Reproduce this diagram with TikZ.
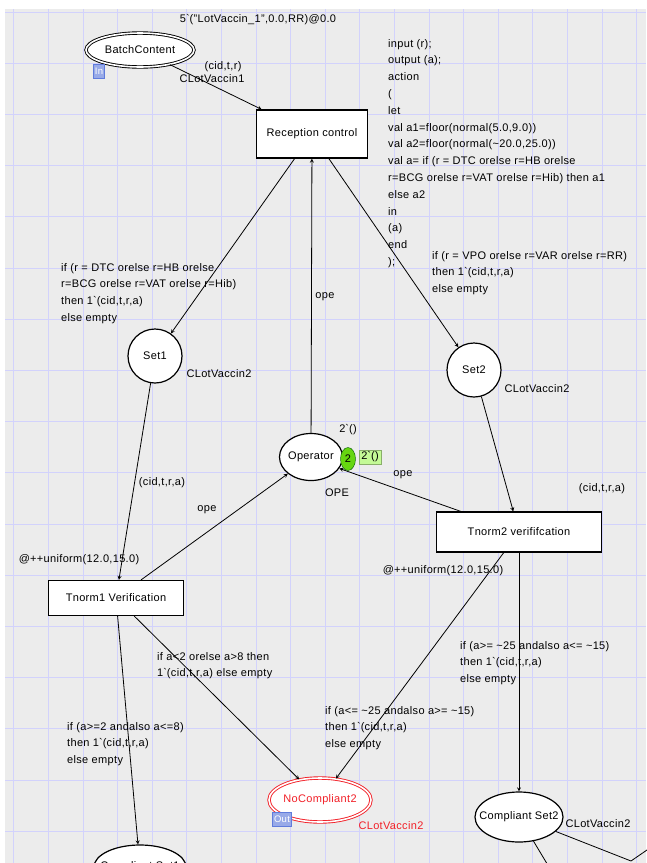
\documentclass[tikz,border=0pt]{standalone}
\usepackage{fontspec}
\setmainfont{Liberation Sans}[LetterSpace=3]
\usetikzlibrary{shapes.geometric}
\definecolor{paper}{RGB}{236,236,236}
\definecolor{gridline}{RGB}{210,210,252}
\definecolor{tagblue}{RGB}{96,124,220}
\definecolor{tokgreen}{RGB}{102,214,16}
\definecolor{markgreen}{RGB}{196,250,150}
\definecolor{portred}{RGB}{242,32,40}
\newcommand{\bq}{\textasciigrave}
\newcommand{\tl}{\textasciitilde}
\begin{document}
\begin{tikzpicture}[x=1pt,y=-1pt,>=stealth,font=\fontsize{11}{16.8}\selectfont,
	place/.style={draw,line width=1.2pt,fill=white,ellipse,inner sep=0pt,inner xsep=-14pt},
	trans/.style={draw,line width=1.2pt,fill=white,inner sep=0pt},
	port/.style={place,double,double distance=1.6pt,line width=.9pt},
	tag/.style={draw=tagblue,fill=tagblue!65,text=white,inner sep=1.5pt,minimum height=14pt,font=\fontsize{9.5}{10}\selectfont},
	arc/.style={->,line width=.8pt},
	code/.style={anchor=north west,inner sep=0pt,align=left}]
	\useasboundingbox (0,0) rectangle (646,863);
	\fill[white] (0,0) rectangle (646,863);
	\fill[paper] (5,9) rectangle (646,863);
	\foreach \i in {0,...,18} \draw[gridline,line width=.7pt] (13.8+34.6*\i,9)--(13.8+34.6*\i,863);
	\foreach \j in {0,...,16} \draw[gridline,line width=.7pt] (5,12+51.2*\j)--(646,12+51.2*\j);
	% places and transitions
	\node[port,minimum width=108pt,minimum height=34pt] (batch) at (140,50) {BatchContent};
	\node[tag] (intag) at (99,71) {In};
	\node[trans,minimum width=111pt,minimum height=48pt] (recep) at (312,134) {Reception control};
	\node[place,circle,minimum size=54pt] (set1) at (155,356) {Set1};
	\node[place,circle,minimum size=54pt] (set2) at (474,370) {Set2};
	\node[place,minimum width=63pt,minimum height=47pt] (oper) at (311,457) {Operator};
	\node[trans,minimum width=135pt,minimum height=35pt] (tn1) at (116,598) {Tnorm1 Verification};
	\node[trans,minimum width=165pt,minimum height=40pt] (tn2) at (519,532) {Tnorm2 verififcation};
	\node[port,draw=portred,text=portred,minimum width=102pt,minimum height=44pt] (nocomp) at (320,800) {NoCompliant2};
	\node[tag] (outtag) at (282,819) {Out};
	\node[place,minimum width=88pt,minimum height=50pt] (cset2) at (519,817) {Compliant Set2};
	\node[place,minimum width=92pt,minimum height=44pt] (cset1) at (140,867) {Compliant Set1};
	\coordinate (offa) at (552,872);
	\coordinate (offb) at (631,861);
	\coordinate (offc) at (660,841);
	% arcs
	\draw[arc] (batch)--(recep);
	\draw[arc] (recep)--(set1);
	\draw[arc] (recep)--(set2);
	\draw[arc] (oper)--(recep);
	\draw[arc] (set1)--(tn1);
	\draw[arc] (set2)--(tn2);
	\draw[arc] (tn1)--(oper);
	\draw[arc] (tn2)--(oper.-22);
	\draw[arc] (tn1)--(nocomp);
	\draw[arc] (tn1)--(cset1);
	\draw[arc] (tn2)--(nocomp);
	\draw[arc] (tn2)--(cset2);
	\draw[line width=.8pt] (cset2)--(offa) (cset2)--(offb)--(offc);
	% tokens
	\node[ellipse,draw=green!35!black,fill=tokgreen,inner sep=0pt,minimum width=15pt,minimum height=23pt] (tok) at (348,459) {2};
	\node[draw=markgreen!70!black,fill=markgreen,inner sep=2pt] (mark) at (370,457) {2\bq()};
	% inscriptions
	\node (init) at (258,20) {5\bq("LotVaccin\_1",0.0,RR)@0.0};
	\node (batchcol) at (212,79) {CLotVaccin1};
	\node (batchin) at (223,67) {(cid,t,r)};
	\node[code] (recepcode) at (388,39) {input (r);\\output (a);\\action\\(\\let\\val a1=floor(normal(5.0,9.0))\\val a2=floor(normal(\tl20.0,25.0))\\val a= if (r = DTC orelse r=HB orelse\\r=BCG orelse r=VAT orelse r=Hib) then a1\\else a2\\in\\(a)\\end\\);};
	\node[code] (g1) at (61,263) {if (r = DTC orelse r=HB orelse\\r=BCG orelse r=VAT orelse r=Hib)\\then 1\bq(cid,t,r,a)\\else empty};
	\node[code] (g2) at (432,251) {if (r = VPO orelse r=VAR orelse r=RR)\\then 1\bq(cid,t,r,a)\\else empty};
	\node (set1col) at (219,374) {CLotVaccin2};
	\node (set2col) at (537,389) {CLotVaccin2};
	\node (opeup) at (325,297) {ope};
	\node (opeinit) at (348,430) {2\bq()};
	\node (opecol) at (337,493) {OPE};
	\node (opeleft) at (207,510) {ope};
	\node (operight) at (403,475) {ope};
	\node (in1) at (162,483) {(cid,t,r,a)};
	\node (in2) at (602,489) {(cid,t,r,a)};
	\node (time1) at (79,560) {@++uniform(12.0,15.0)};
	\node (time2) at (443,571) {@++uniform(12.0,15.0)};
	\node[code] (g3) at (157,652) {if a<2 orelse a>8 then\\1\bq(cid,t,r,a) else empty};
	\node[code] (g4) at (67,722) {if (a>=2 andalso a<=8)\\then 1\bq(cid,t,r,a)\\else empty};
	\node[code] (g5) at (325,706) {if (a<= \tl25 andalso a>= \tl15)\\then 1\bq(cid,t,r,a)\\else empty};
	\node[code] (g6) at (460,641) {if (a>= \tl25 andalso a<= \tl15)\\then 1\bq(cid,t,r,a)\\else empty};
	\node[text=portred] (nocol) at (391,826) {CLotVaccin2};
	\node (cset2col) at (598,824) {CLotVaccin2};
\end{tikzpicture}
\end{document}
